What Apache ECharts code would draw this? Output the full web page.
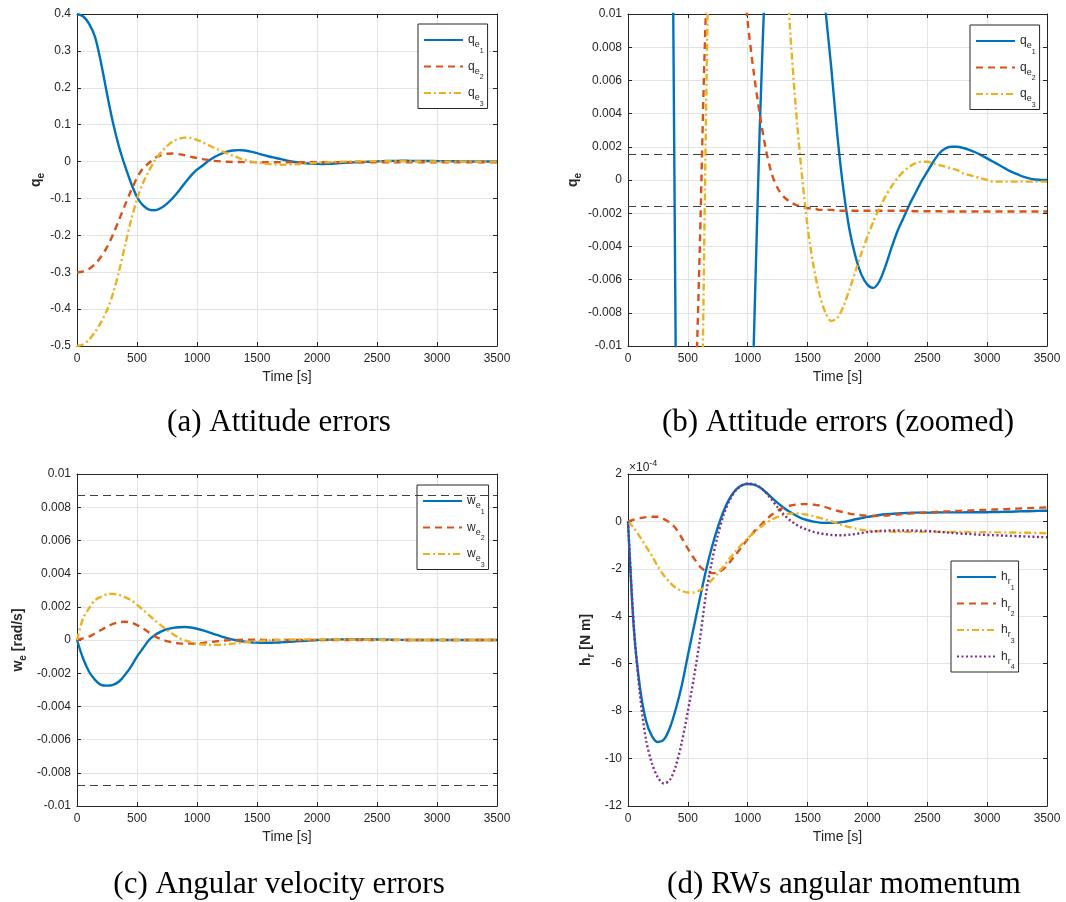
<!DOCTYPE html>
<html><head><meta charset="utf-8">
<script src="https://cdn.jsdelivr.net/npm/echarts@6/dist/echarts.min.js"></script>
<style>html,body{margin:0;padding:0;background:#fff}#c{width:1066px;height:902px}</style>
</head><body><div id="c"></div>
<script>
// ---------------- data ----------------
const time = [0,50,100,150,200,250,300,350,400,450,500,550,600,650,700,750,800,850,900,950,
  1000,1050,1100,1150,1200,1250,1300,1350,1400,1450,1500,1550,1600,1650,1700,1750,1800,1850,1900,1950,
  2000,2050,2100,2150,2200,2250,2300,2350,2400,2450,2500,2550,2600,2650,2700,2750,2800,2850,2900,2950,
  3000,3050,3100,3150,3200,3250,3300,3350,3400,3450,3500];

// attitude errors q_e
const qe1 = [0.400,0.394,0.374,0.338,0.268,0.184,0.105,0.040,-0.012,-0.058,-0.096,-0.119,-0.130,-0.132,-0.126,-0.114,-0.098,-0.079,-0.058,-0.038,
  -0.022,-0.010,0.003,0.013,0.021,0.027,0.030,0.031,0.030,0.027,0.023,0.018,0.0138,0.0102,0.0066,0.0026,-0.0006,-0.0030,-0.0046,-0.0057,
  -0.0063,-0.0065,-0.0061,-0.0052,-0.0041,-0.0031,-0.0023,-0.0015,-0.0008,-0.0001,0.0005,0.0011,0.0016,0.0019,0.0020,0.0020,0.00193,0.00182,0.00167,0.0015,
  0.0013,0.0011,0.0009,0.0007,0.0005,0.00035,0.0002,0.0001,0.00003,0.0000,0.0000];
const qe2 = [-0.300,-0.298,-0.291,-0.278,-0.258,-0.232,-0.198,-0.158,-0.118,-0.079,-0.044,-0.018,-0.004,0.010,0.017,0.021,0.022,0.020,0.017,0.013,
  0.0095,0.0065,0.0040,0.0019,0.0004,-0.0005,-0.0010,-0.0013,-0.0015,-0.0016,-0.0017,-0.0017,-0.0018,-0.0018,-0.0018,-0.00185,-0.00185,-0.00185,-0.00185,-0.00185,
  -0.00185,-0.00185,-0.00185,-0.00185,-0.00185,-0.00185,-0.00185,-0.00185,-0.00188,-0.00188,-0.00188,-0.00188,-0.00188,-0.0019,-0.0019,-0.0019,-0.0019,-0.0019,-0.0019,-0.0019,
  -0.0019,-0.0019,-0.0019,-0.0019,-0.0019,-0.0019,-0.0019,-0.0019,-0.0019,-0.0019,-0.0019];
const qe3 = [-0.500,-0.496,-0.483,-0.462,-0.436,-0.403,-0.358,-0.298,-0.228,-0.160,-0.102,-0.058,-0.025,0.003,0.025,0.042,0.055,0.062,0.065,0.064,
  0.059,0.052,0.044,0.036,0.029,0.022,0.016,0.0095,0.0045,0.0005,-0.0028,-0.0052,-0.0069,-0.0080,-0.0085,-0.0083,-0.0076,-0.0066,-0.0055,-0.0044,
  -0.0034,-0.0025,-0.0017,-0.0010,-0.0004,0.0001,0.0005,0.0008,0.0010,0.0011,0.0011,0.0010,0.0009,0.0008,0.0007,0.0006,0.0004,0.0003,0.0002,0.0001,
  0.0000,-0.0001,-0.0001,-0.0001,-0.0001,-0.0001,-0.0001,-0.0001,-0.0001,-0.0001,-0.0001];
const qBound = [0.00157, -0.00157];

// angular velocity errors w_e [rad/s]
const we1 = [0,-0.0011,-0.0019,-0.0024,-0.0027,-0.00275,-0.0027,-0.0025,-0.0021,-0.0016,-0.0010,-0.0005,0.0000,0.0003,0.0005,0.00065,0.00073,0.00077,0.00078,0.00075,
  0.00068,0.00058,0.00046,0.00034,0.00022,0.00011,0.00002,-0.00005,-0.0001,-0.00014,-0.00016,-0.00017,-0.00017,-0.00016,-0.00014,-0.00012,-0.0001,-0.00007,-0.00005,-0.00002,
  0,0.00001,0.00002,0.00003,0.00004,0.00004,0.00004,0.00004,0.00004,0.00003,0.00003,0.00002,0.00002,0.00001,0.00001,0,0,0,0,0,
  0,0,0,0,0,0,0,0,0,0,0];
const we2 = [0,0.0001,0.0002,0.0004,0.0006,0.0008,0.00097,0.00107,0.0011,0.00105,0.0009,0.0007,0.00045,0.00022,0.00005,-0.00007,-0.00015,-0.0002,-0.00022,-0.00022,
  -0.0002,-0.00017,-0.00013,-0.00009,-0.00005,-0.00002,0,0.00001,0.00002,0.00002,0.00002,0.00001,0,0,0,0,0,0,0,0,
  0,0,0,0,0,0,0,0,0,0,0,0,0,0,0,0,0,0,0,0,
  0,0,0,0,0,0,0,0,0,0,0];
const we3 = [0,0.0013,0.0019,0.0024,0.0026,0.00275,0.00278,0.00272,0.00258,0.0024,0.00212,0.00182,0.0015,0.00118,0.00088,0.0006,0.00035,0.00013,-0.00003,-0.00014,
  -0.00022,-0.00027,-0.0003,-0.0003,-0.00029,-0.00026,-0.00022,-0.00018,-0.00014,-0.0001,-0.00007,-0.00004,-0.00002,0,0.00001,0.00002,0.00003,0.00003,0.00004,0.00004,
  0.00004,0.00004,0.00004,0.00003,0.00003,0.00003,0.00002,0.00002,0.00002,0.00002,0.00001,0.00001,0.00001,0.00001,0.00001,0,0,0,0,0,
  0,0,0,0,0,0,0,0,0,0,0];
const wBound = [0.00873, -0.00873];

// RW angular momentum h_r, in units of 1e-4 N m
const hr1 = [0,-4.6,-7.0,-8.4,-9.05,-9.3,-9.2,-8.7,-7.9,-6.9,-5.65,-4.45,-3.25,-2.1,-1.1,-0.25,0.45,0.98,1.33,1.52,
  1.58,1.55,1.44,1.24,1.0,0.78,0.58,0.41,0.26,0.13,0.05,-0.01,-0.05,-0.06,-0.06,-0.05,-0.02,0.03,0.09,0.14,
  0.19,0.23,0.27,0.30,0.32,0.34,0.35,0.36,0.37,0.37,0.37,0.37,0.38,0.38,0.38,0.38,0.38,0.39,0.39,0.39,
  0.39,0.40,0.40,0.41,0.41,0.42,0.43,0.43,0.44,0.45,0.45];
const hr2 = [0,0.08,0.14,0.18,0.2,0.2,0.1,-0.05,-0.3,-0.7,-1.15,-1.55,-1.9,-2.1,-2.18,-2.15,-2.0,-1.72,-1.4,-1.07,
  -0.75,-0.45,-0.2,0.05,0.28,0.45,0.58,0.66,0.71,0.73,0.73,0.71,0.67,0.6,0.52,0.45,0.39,0.33,0.29,0.26,
  0.24,0.23,0.24,0.25,0.27,0.29,0.31,0.33,0.35,0.37,0.38,0.39,0.41,0.42,0.43,0.44,0.45,0.46,0.47,0.48,
  0.49,0.5,0.51,0.52,0.53,0.54,0.55,0.56,0.57,0.58,0.59];
const hr3 = [0,-0.28,-0.65,-1.05,-1.45,-1.9,-2.28,-2.58,-2.8,-2.93,-3.0,-3.0,-2.9,-2.73,-2.47,-2.19,-1.88,-1.56,-1.25,-0.97,
  -0.71,-0.48,-0.27,-0.08,0.07,0.19,0.28,0.33,0.34,0.32,0.28,0.22,0.15,0.08,0.0,-0.09,-0.17,-0.24,-0.30,-0.35,
  -0.39,-0.41,-0.42,-0.43,-0.43,-0.44,-0.44,-0.44,-0.44,-0.44,-0.44,-0.44,-0.44,-0.44,-0.44,-0.44,-0.44,-0.45,-0.45,-0.45,
  -0.45,-0.46,-0.46,-0.46,-0.47,-0.47,-0.48,-0.48,-0.49,-0.49,-0.5];
const hr4 = [0,-4.5,-7.3,-9.2,-10.2,-10.8,-11.05,-10.9,-10.3,-9.3,-8.0,-6.6,-5.0,-3.1,-1.7,-0.6,0.3,0.9,1.3,1.52,
  1.6,1.57,1.45,1.22,0.92,0.6,0.3,0.06,-0.12,-0.26,-0.36,-0.44,-0.5,-0.54,-0.57,-0.58,-0.58,-0.56,-0.53,-0.49,
  -0.45,-0.42,-0.40,-0.39,-0.38,-0.38,-0.38,-0.38,-0.39,-0.39,-0.40,-0.42,-0.44,-0.46,-0.48,-0.50,-0.52,-0.53,-0.55,-0.56,
  -0.57,-0.58,-0.59,-0.60,-0.61,-0.62,-0.63,-0.64,-0.65,-0.66,-0.67];

// axis ranges [min, max, interval]
const timeAxis = [0, 3500, 500];
const qAxis = [-0.5, 0.4, 0.1];
const qZoomAxis = [-0.01, 0.01, 0.002];
const wAxis = [-0.01, 0.01, 0.002];
const hAxis = [-12, 2, 2];

const captions = ['(a) Attitude errors', '(b) Attitude errors (zoomed)', '(c) Angular velocity errors', '(d) RWs angular momentum'];
const xName = 'Time [s]';

// ---------------- styling ----------------
const FONT = '"Liberation Sans", Arial, Helvetica, sans-serif';
const SERIF = '"Liberation Serif", "Times New Roman", serif';
const AX = '#262626';
const GRIDC = '#e3e3e3';
const COL = ['#0072BD', '#D95319', '#EDB120', '#7E2F8E'];
const DASH = ['solid', [7, 5], [7, 3, 2, 3], [2, 2.5]];

const grids = [
  {left: 77, top: 14, width: 420, height: 332},
  {left: 628, top: 14, width: 419, height: 332},
  {left: 77, top: 474, width: 420, height: 332},
  {left: 628, top: 474, width: 419, height: 332}
];

const nameRich = {
  m: {fontFamily: FONT, fontSize: 14, fontWeight: 'bold', color: AX, verticalAlign: 'top', height: 14},
  s: {fontFamily: FONT, fontSize: 10, fontWeight: 'bold', color: AX, verticalAlign: 'top', height: 10, padding: [7, 0, 0, 0]}
};

function xAxes(gi) {
  const base = {
    gridIndex: gi, type: 'value', min: timeAxis[0], max: timeAxis[1], interval: timeAxis[2],
    axisLine: {show: true, onZero: false, lineStyle: {color: AX, width: 1}},
    axisTick: {show: true, inside: true, length: 4, lineStyle: {color: AX}},
    splitLine: {show: false}
  };
  return [
    Object.assign({}, base, {
      position: 'bottom',
      axisLabel: {show: true, color: AX, fontSize: 12, fontFamily: FONT, margin: 7, formatter: v => String(v)},
      splitLine: {show: true, lineStyle: {color: GRIDC, width: 1}},
      name: xName, nameLocation: 'middle', nameGap: 24,
      nameTextStyle: {color: AX, fontSize: 14, fontFamily: FONT}
    }),
    Object.assign({}, base, {position: 'top', axisLabel: {show: false}})
  ];
}
function yAxes(gi, rng, name, gap) {
  const base = {
    gridIndex: gi, type: 'value', min: rng[0], max: rng[1], interval: rng[2],
    axisLine: {show: true, onZero: false, lineStyle: {color: AX, width: 1}},
    axisTick: {show: true, inside: true, length: 4, lineStyle: {color: AX}},
    splitLine: {show: false}
  };
  return [
    Object.assign({}, base, {
      position: 'left',
      axisLabel: {show: true, color: AX, fontSize: 12, fontFamily: FONT, margin: 6},
      splitLine: {show: true, lineStyle: {color: GRIDC, width: 1}},
      name: name, nameLocation: 'middle', nameGap: gap, nameRotate: 90,
      nameTextStyle: {color: AX, fontSize: 14, fontWeight: 'bold', fontFamily: FONT, rich: nameRich}
    }),
    Object.assign({}, base, {position: 'right', axisLabel: {show: false}})
  ];
}

function mkSeries(name, arr, gi, k, extra) {
  return Object.assign({
    name: name, type: 'line', xAxisIndex: 2 * gi, yAxisIndex: 2 * gi,
    data: time.map((t, i) => [t, arr[i]]),
    showSymbol: false, symbol: 'none', smooth: 0.3, clip: true,
    color: COL[k],
    lineStyle: {color: COL[k], width: 2.4, type: DASH[k]},
    emphasis: {disabled: true}, silent: true, z: 2 + k
  }, extra || {});
}
function boundLine(vals) {
  return {
    markLine: {
      silent: true, symbol: 'none', label: {show: false}, animation: false, precision: 6,
      lineStyle: {color: '#404040', width: 1, type: [8, 5]},
      emphasis: {disabled: true},
      data: vals.map(v => ({yAxis: v}))
    }
  };
}

const legRich = {
  a: {fontFamily: FONT, fontSize: 12, color: AX, verticalAlign: 'top', height: 12, padding: [8.5, 0, 0, 0]},
  b: {fontFamily: FONT, fontSize: 9, color: AX, verticalAlign: 'top', height: 9, padding: [15, 0, 0, 0]},
  c: {fontFamily: FONT, fontSize: 7, color: AX, verticalAlign: 'top', height: 7, padding: [22, 0, 0, 0]}
};
function mkLegend(names, left, top) {
  return {
    orient: 'vertical', left: left, top: top, data: names,
    itemWidth: 39, itemHeight: 14, itemGap: 6, padding: [10, 4, 1, 5],
    backgroundColor: '#fff', borderColor: AX, borderWidth: 1, borderRadius: 0,
    selectedMode: false,
    itemStyle: {color: 'rgba(0,0,0,0)', borderWidth: 0, opacity: 0},
    formatter: n => '{a|' + n[0] + '}{b|' + n[2] + '}{c|' + n[3] + '}',
    textStyle: {rich: legRich}
  };
}

const qNames = ['q_e1', 'q_e2', 'q_e3'];
const wNames = ['w_e1', 'w_e2', 'w_e3'];
const hNames = ['h_r1', 'h_r2', 'h_r3', 'h_r4'];
const qData = [qe1, qe2, qe3];
const wData = [we1, we2, we3];
const hData = [hr1, hr2, hr3, hr4];

const series = [];
qData.forEach((a, k) => series.push(mkSeries(qNames[k], a, 0, k)));
qData.forEach((a, k) => series.push(mkSeries(qNames[k], a, 1, k, k === 2 ? boundLine(qBound) : null)));
wData.forEach((a, k) => series.push(mkSeries(wNames[k], a, 2, k, k === 2 ? boundLine(wBound) : null)));
hData.forEach((a, k) => series.push(mkSeries(hNames[k], a, 3, k)));

const capStyle = {fontSize: 31, fontFamily: SERIF, fill: '#000', align: 'center', verticalAlign: 'middle'};

const option = {
  animation: false,
  backgroundColor: '#fff',
  grid: grids,
  xAxis: [].concat(xAxes(0), xAxes(1), xAxes(2), xAxes(3)),
  yAxis: [].concat(
    yAxes(0, qAxis, '{m|q}{s|e}', 31),
    yAxes(1, qZoomAxis, '{m|q}{s|e}', 45),
    yAxes(2, wAxis, '{m|w}{s|e}{m| [rad/s]}', 49),
    yAxes(3, hAxis, '{m|h}{s|r}{m| [N m]}', 32)
  ),
  legend: [
    mkLegend(qNames, 418, 24),
    mkLegend(qNames, 970, 25),
    mkLegend(wNames, 417, 485),
    mkLegend(hNames, 951, 561)
  ],
  series: series,
  graphic: [
    {type: 'text', x: 279, y: 423, silent: true, style: Object.assign({text: captions[0]}, capStyle)},
    {type: 'text', x: 838, y: 423, silent: true, style: Object.assign({text: captions[1]}, capStyle)},
    {type: 'text', x: 279, y: 885, silent: true, style: Object.assign({text: captions[2]}, capStyle)},
    {type: 'text', x: 844, y: 885, silent: true, style: Object.assign({text: captions[3]}, capStyle)},
    {type: 'text', x: 629, y: 459, silent: true, style: {
      text: '{a|\u00d710}{b|-4}', align: 'left', verticalAlign: 'top',
      rich: {
        a: {fontFamily: FONT, fontSize: 12, fill: AX, color: AX, verticalAlign: 'top', height: 12, padding: [3, 0, 0, 0]},
        b: {fontFamily: FONT, fontSize: 9, fill: AX, color: AX, verticalAlign: 'top', height: 9}
      }
    }}
  ]
};

const chart = echarts.init(document.getElementById('c'), null, {renderer: 'canvas'});
chart.setOption(option);
</script>
</body></html>
